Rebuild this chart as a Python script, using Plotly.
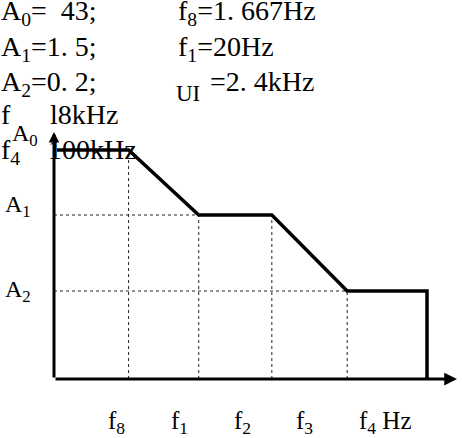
import plotly.graph_objects as go

# ---------------- data ----------------
freq_labels = ["f<sub>8</sub>", "f<sub>1</sub>", "f<sub>2</sub>", "f<sub>3</sub>", "f<sub>4</sub>&nbsp;Hz"]
freq_pos = [1.0, 1.94, 2.92, 3.93, 5.0]          # schematic break points on the frequency axis
amp_labels = ["A<sub>0</sub>", "A<sub>1</sub>", "A<sub>2</sub>"]
amp_levels = [2.29, 1.64, 0.88]                  # schematic amplitude levels
param_left_names = ["A<sub>0</sub>", "A<sub>1</sub>", "A<sub>2</sub>", "f", "f<sub>4</sub>"]
param_left_values = ["=&nbsp;&nbsp;43;", "=1.&nbsp;5;", "=0.&nbsp;2;", "l8kHz", "100kHz"]
param_right_names = ["f<sub>8</sub>", "f<sub>1</sub>", "UI"]
param_right_values = ["=1.&nbsp;667Hz", "=20Hz", "=2.&nbsp;4kHz"]

# ---------------- layout helpers ----------------
W, H = 462, 438
X0, XS = 54, 74.6      # pixel of origin, pixels per x unit
Y0, YS = 379, 100      # pixel of origin, pixels per y unit
x_range = [-X0 / XS, (W - X0) / XS]
y_range = [(Y0 - H) / YS, Y0 / YS]
x_tip = (457 - X0) / XS
y_tip = (Y0 - 132) / YS

def px(x):
    return x / W

def py(y):
    return 1 - y / H

fig = go.Figure()

# dotted guide lines
f8, f1, f2, f3, f4 = freq_pos
A0, A1, A2 = amp_levels
guides = [
    ([f8, f8], [0, A0]),
    ([f1, f1], [0, A1]),
    ([f2, f2], [0, A1]),
    ([f3, f3], [0, A2]),
    ([0, f1], [A1, A1]),
    ([0, f3], [A2, A2]),
]
for gx, gy in guides:
    fig.add_trace(go.Scatter(x=gx, y=gy, mode="lines",
                             line=dict(color="#222222", width=1, dash="dot"),
                             hoverinfo="skip", showlegend=False))

# response curve
curve_x = [0.04, f8, f1, f2, f3, f4, f4]
curve_y = [A0, A0, A1, A1, A2, A2, 0]
fig.add_trace(go.Scatter(x=curve_x, y=curve_y, mode="lines",
                         line=dict(color="black", width=3.5),
                         hoverinfo="skip", showlegend=False))

annotations = []
# axes with arrows
annotations.append(dict(x=x_tip, y=0, ax=0, ay=0, xref="x", yref="y", axref="x", ayref="y",
                        showarrow=True, arrowhead=2, arrowsize=0.85, arrowwidth=3,
                        arrowcolor="black", text=""))
annotations.append(dict(x=0, y=y_tip, ax=0, ay=0, xref="x", yref="y", axref="x", ayref="y",
                        showarrow=True, arrowhead=2, arrowsize=0.7, arrowwidth=3,
                        arrowcolor="black", text=""))

serif = "Liberation Serif"
FS = 28

def top_text(text, x_left, baseline, size=FS):
    annotations.append(dict(x=px(x_left), y=py(baseline - 0.92 * size), xref="paper", yref="paper",
                            xanchor="left", yanchor="top", showarrow=False, text=text,
                            font=dict(family=serif, size=size, color="black")))

# top parameter text (left column)
left_baselines = [19, 55, 90, 123, 158]
for i, (name, val, b) in enumerate(zip(param_left_names, param_left_values, left_baselines)):
    if i < 3:
        top_text(name + val, -1, b)
    else:
        top_text(name, -1, b)
        top_text(val, 48 if i == 3 else 46, b)

# top parameter text (right column)
top_text(param_right_names[0] + param_right_values[0], 176, 19)
top_text(param_right_names[1] + param_right_values[1], 176, 55)
top_text(param_right_names[2], 174, 100, size=23)
top_text(param_right_values[2], 208, 90)

# amplitude labels
amp_lx = [10, 3, 3]
amp_cy = [135, 206, 291]
for lab, lx, cy in zip(amp_labels, amp_lx, amp_cy):
    annotations.append(dict(x=px(lx), y=py(cy), xref="paper", yref="paper",
                            xanchor="left", yanchor="middle",
                            showarrow=False, text=lab,
                            font=dict(family=serif, size=24, color="black")))

# frequency labels
lab_x = [106, 169, 232, 294, 357]
for lab, lx in zip(freq_labels, lab_x):
    annotations.append(dict(x=px(lx), y=py(428 - 23), xref="paper", yref="paper",
                            xanchor="left", yanchor="top", showarrow=False, text=lab,
                            font=dict(family=serif, size=25, color="black")))

fig.update_layout(
    width=W, height=H,
    margin=dict(l=0, r=0, t=0, b=0),
    paper_bgcolor="white", plot_bgcolor="white",
    font=dict(family=serif),
    xaxis=dict(range=x_range, visible=False, fixedrange=True),
    yaxis=dict(range=y_range, visible=False, fixedrange=True),
    annotations=annotations,
    showlegend=False,
)

fig.write_html("out.html", config={"displayModeBar": False},
               post_script="document.body.style.margin='0';")
